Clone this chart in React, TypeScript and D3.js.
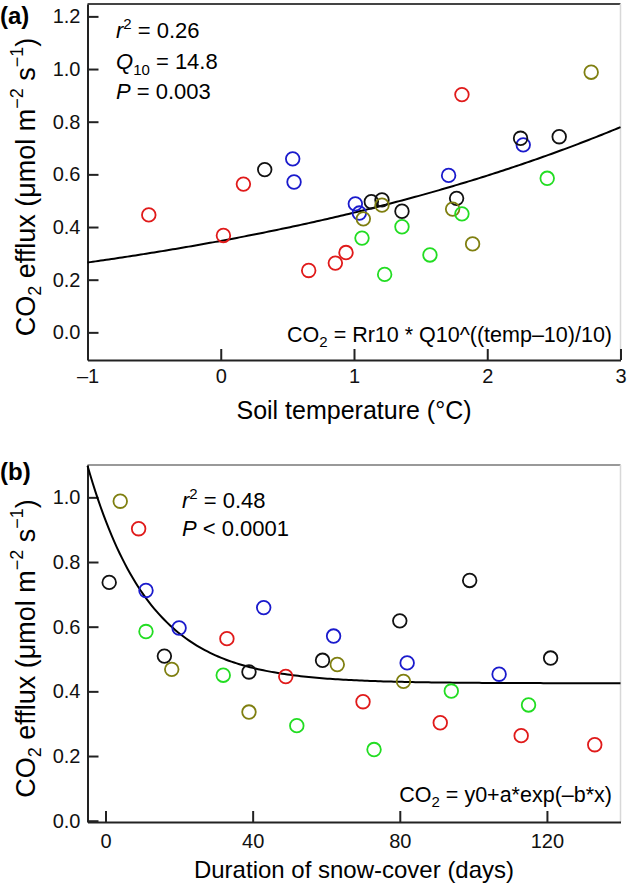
import React, { useEffect, useRef } from "react";
import * as d3 from "d3";

// colours of the five point groups
const groupColors = ["#e01a1a", "#1a1acc", "#111111", "#7f7f10", "#22dd22"];

// one entry per plotted point (same points in both panels)
const pointGroup = [
  0, 0, 0, 0, 0, 0, 0,
  1, 1, 1, 1, 1, 1,
  2, 2, 2, 2, 2, 2, 2,
  3, 3, 3, 3, 3,
  4, 4, 4, 4, 4, 4,
];
const soilTemp = [
  1.81, 0.17, -0.54, 0.02, 0.94, 0.86, 0.66,
  2.27, 1.71, 0.54, 0.55, 1.01, 1.04,
  2.25, 1.77, 1.36, 1.13, 0.33, 2.54, 1.21,
  2.78, 1.74, 1.89, 1.21, 1.07,
  2.45, 1.81, 1.57, 1.23, 1.36, 1.06,
];
const snowDays = [
  9, 33, 49, 70, 91, 113, 133,
  11, 20, 43, 62, 82, 107,
  1, 16, 39, 59, 80, 99, 121,
  4, 18, 39, 63, 81,
  11, 32, 52, 73, 94, 115,
];
const co2Efflux = [
  0.903, 0.563, 0.446, 0.368, 0.303, 0.263, 0.235,
  0.712, 0.596, 0.659, 0.571, 0.488, 0.453,
  0.737, 0.509, 0.460, 0.496, 0.618, 0.743, 0.503,
  0.988, 0.468, 0.336, 0.483, 0.431,
  0.585, 0.450, 0.294, 0.220, 0.401, 0.358,
];

const tempTicks = [-1, 0, 1, 2, 3];
const dayTicks = [0, 40, 80, 120];
const effluxTicksA = [0, 0.2, 0.4, 0.6, 0.8, 1.0, 1.2];
const effluxTicksB = [0, 0.2, 0.4, 0.6, 0.8, 1.0];

// fitted models as printed on the figure
const q10 = 14.8;
const rr10 = 5.14;
const expY0 = 0.425;
const expA = 0.504;
const expB = 0.059;

const FONT = "'Liberation Sans', Arial, sans-serif";
const LEFT = 87.5;
const RIGHT = 620.5;

function App() {
  const ref = useRef(null);

  function drawPanel(svg, o) {
    const x = d3.scaleLinear().domain(o.xDomain).range([LEFT, RIGHT]);
    const y = d3.scaleLinear().domain(o.yDomain).range([o.bottom, o.top]);
    const g = svg.append("g");

    // frame (top and right)
    g.append("line")
      .attr("x1", LEFT).attr("x2", RIGHT)
      .attr("y1", o.top).attr("y2", o.top)
      .attr("stroke", o.topColor).attr("stroke-width", 2);
    g.append("line")
      .attr("x1", RIGHT).attr("x2", RIGHT)
      .attr("y1", o.top).attr("y2", o.bottom)
      .attr("stroke", "#d8d8d8").attr("stroke-width", 1.5);

    const xAxis = g.append("g")
      .attr("transform", `translate(0,${o.bottom})`)
      .call(d3.axisBottom(x).tickValues(o.xTicks).tickSize(-11).tickSizeOuter(0).tickPadding(o.xPad)
        .tickFormat(d => (d < 0 ? "\u2013" + Math.abs(d) : String(d))));
    const yAxis = g.append("g")
      .attr("transform", `translate(${LEFT},0)`)
      .call(d3.axisLeft(y).tickValues(o.yTicks).tickSize(-11).tickSizeOuter(0).tickPadding(7)
        .tickFormat(d3.format(".1f")));
    [xAxis, yAxis].forEach(ax => {
      ax.attr("font-size", 20).attr("font-family", FONT);
      ax.selectAll("path, line").attr("stroke", "#222").attr("stroke-width", 2);
      ax.selectAll("text").attr("fill", "#111");
    });

    // fitted curve
    const xs = d3.range(o.xDomain[0], o.xDomain[1] + 0.001, (o.xDomain[1] - o.xDomain[0]) / 200);
    g.append("path")
      .datum(xs)
      .attr("fill", "none")
      .attr("stroke", "#000")
      .attr("stroke-width", 2)
      .attr("d", d3.line().x(d => x(d)).y(d => y(o.model(d))));

    g.append("g")
      .selectAll("circle")
      .data(d3.range(co2Efflux.length))
      .join("circle")
      .attr("cx", i => x(o.xValues[i]))
      .attr("cy", i => y(co2Efflux[i]))
      .attr("r", 6.8)
      .attr("fill", "none")
      .attr("stroke", i => groupColors[pointGroup[i]])
      .attr("stroke-width", 1.8);

    // panel label
    g.append("text")
      .attr("x", 0).attr("y", o.labelY)
      .attr("font-family", FONT).attr("font-weight", "bold").attr("font-size", 24)
      .text(o.label);

    // x title
    g.append("text")
      .attr("x", 354).attr("y", o.bottom + o.titleOff)
      .attr("text-anchor", "middle")
      .attr("font-family", FONT).attr("font-size", o.titleSize)
      .text(o.xTitle);

    // y title
    const yt = g.append("text")
      .attr("transform", `translate(35,${(o.top + o.bottom) / 2 + 5}) rotate(-90)`)
      .attr("text-anchor", "middle")
      .attr("font-family", FONT).attr("font-size", 27);
    yt.append("tspan").text("CO");
    yt.append("tspan").attr("font-size", 18).attr("dy", 6).text("2");
    yt.append("tspan").attr("dy", -6).text(" efflux (\u03bcmol m");
    yt.append("tspan").attr("font-size", 18).attr("dy", -12).text("\u22122");
    yt.append("tspan").attr("dy", 12).text(" s");
    yt.append("tspan").attr("font-size", 18).attr("dy", -12).text("\u22121");
    yt.append("tspan").attr("dy", 12).text(")");

    // equation
    const eq = g.append("text")
      .attr("x", 612).attr("y", o.eqY)
      .attr("text-anchor", "end")
      .attr("font-family", FONT).attr("font-size", 21.5);
    eq.append("tspan").text("CO");
    eq.append("tspan").attr("font-size", 15).attr("dy", 5).text("2");
    eq.append("tspan").attr("dy", -5).text(" = " + o.eqText);

    // stats
    o.stats.forEach((s, k) => {
      const t = g.append("text")
        .attr("x", o.statX).attr("y", o.statY + k * o.statStep)
        .attr("font-family", FONT).attr("font-size", 22);
      t.append("tspan").attr("font-style", "italic").text(s.sym);
      if (s.sup) t.append("tspan").attr("font-size", 15).attr("dy", -9).text(s.sup);
      if (s.sub) t.append("tspan").attr("font-size", 15).attr("dy", 6).text(s.sub);
      t.append("tspan").attr("dy", s.sup ? 9 : s.sub ? -6 : 0).text(s.rest);
    });
  }

  useEffect(() => {
    const svg = d3.select(ref.current);
    svg.selectAll("*").remove();

    drawPanel(svg, {
      top: 4, bottom: 360,
      xDomain: [-1, 3], yDomain: [-0.105, 1.247],
      xTicks: tempTicks, yTicks: effluxTicksA, xPad: 9,
      xValues: soilTemp,
      model: t => rr10 * Math.pow(q10, (t - 10) / 10),
      topColor: "#444",
      label: "(a)", labelY: 24,
      xTitle: "Soil temperature (\u00b0C)", titleOff: 59, titleSize: 25,
      eqText: "Rr10 * Q10^((temp\u201310)/10)", eqY: 342,
      statX: 116, statY: 38, statStep: 30.5,
      stats: [
        { sym: "r", sup: "2", rest: " = 0.26" },
        { sym: "Q", sub: "10", rest: " = 14.8" },
        { sym: "P", rest: " = 0.003" },
      ],
    });

    drawPanel(svg, {
      top: 465, bottom: 822,
      xDomain: [-4.9, 140], yDomain: [-0.004, 1.1],
      xTicks: dayTicks, yTicks: effluxTicksB, xPad: 12,
      xValues: snowDays,
      model: d => expY0 + expA * Math.exp(-expB * d),
      topColor: "#999",
      label: "(b)", labelY: 480,
      xTitle: "Duration of snow-cover (days)", titleOff: 56, titleSize: 24,
      eqText: "y0+a*exp(\u2013b*x)", eqY: 802,
      statX: 182, statY: 508, statStep: 28,
      stats: [
        { sym: "r", sup: "2", rest: " = 0.48" },
        { sym: "P", rest: " < 0.0001" },
      ],
    });
  }, []);

  return (
    <div style={{ position: "absolute", left: 0, top: 0, background: "#fff" }}>
      <svg ref={ref} width={628} height={886} style={{ display: "block" }} />
    </div>
  );
}

export default App;
